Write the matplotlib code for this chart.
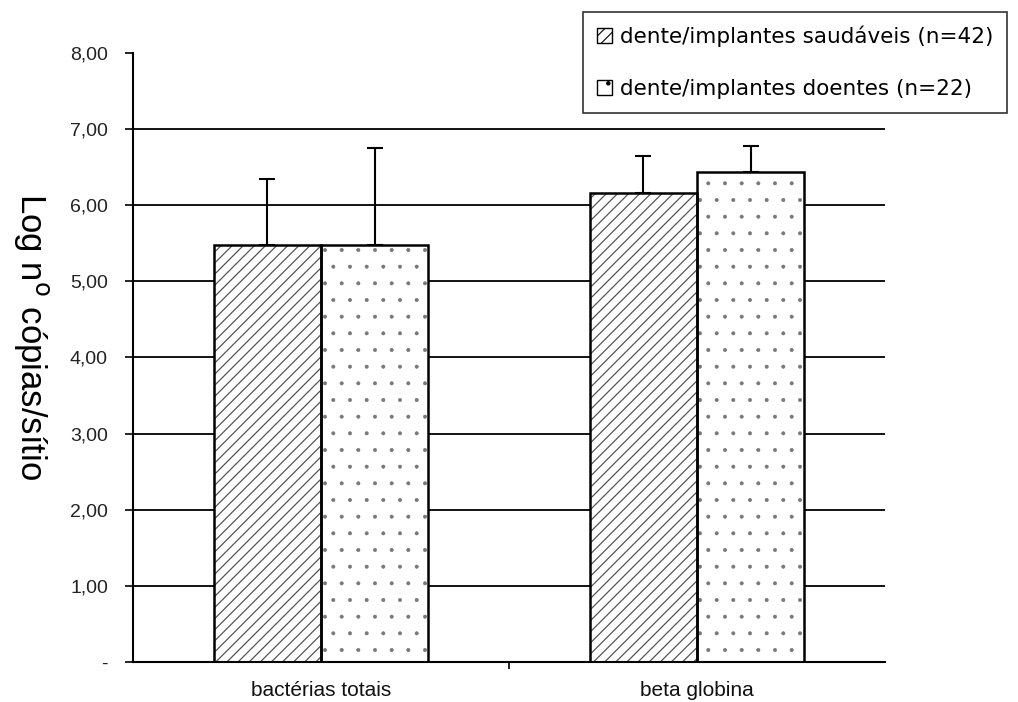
import matplotlib
matplotlib.use("Agg")
import matplotlib.pyplot as plt
import numpy as np
from matplotlib.patches import Patch

categories = ["bactérias totais", "beta globina"]
series_names = ["dente/implantes saudáveis (n=42)", "dente/implantes doentes (n=22)"]
healthy = [5.48, 6.16]
healthy_err = [0.86, 0.49]
diseased = [5.48, 6.44]
diseased_err = [1.27, 0.34]
yticks = [0, 1, 2, 3, 4, 5, 6, 7, 8]
ytick_labels = ["-", "1,00", "2,00", "3,00", "4,00", "5,00", "6,00", "7,00", "8,00"]

plt.rcParams['font.family'] = ['Liberation Sans', 'DejaVu Sans']

fig = plt.figure(figsize=(10.18, 7.02), dpi=100)
ax = fig.add_axes([0.1306, 0.057, 0.7388, 0.8675])

x = np.arange(len(categories))
w = 0.285
for yv in yticks[1:-1]:
    ax.axhline(yv, color='black', lw=1.3, zorder=0)

plt.rcParams['hatch.linewidth'] = 0.9
ax.bar(x - w/2, healthy, w, color='white', edgecolor='#555555', lw=0, hatch='///', zorder=2)
plt.rcParams['hatch.linewidth'] = 0.4
ax.bar(x + w/2, diseased, w, color='white', edgecolor='#777777', lw=0, hatch='.', zorder=2)
ax.bar(x - w/2, healthy, w, fill=False, edgecolor='black', lw=1.8, zorder=3)
ax.bar(x + w/2, diseased, w, fill=False, edgecolor='black', lw=1.8, zorder=3)
ax.errorbar(x - w/2, healthy, yerr=[np.zeros(2), healthy_err], fmt='none', ecolor='black',
            elinewidth=1.5, capsize=6, capthick=1.5, zorder=1)
ax.errorbar(x + w/2, diseased, yerr=[np.zeros(2), diseased_err], fmt='none', ecolor='black',
            elinewidth=1.5, capsize=6, capthick=1.5, zorder=1)

ax.set_xlim(-0.5, 1.5)
ax.set_ylim(0, 8)
ax.set_yticks(yticks)
ax.set_yticklabels(ytick_labels, fontsize=14, color='#222222')
ax.set_xticks([0.5])
ax.set_xticklabels([""])
ax.tick_params(axis='x', length=5, width=1.2, direction='out')
ax.tick_params(axis='y', length=6, width=1.2, direction='out', pad=12)
for i, c in enumerate(categories):
    ax.text(x[i], -0.25, c, ha='center', va='top', fontsize=15, color='#111111')

ax.spines['top'].set_visible(False)
ax.spines['right'].set_visible(False)
ax.spines['left'].set_linewidth(1.5)
ax.spines['bottom'].set_linewidth(1.5)

fig.text(0.031, 0.521, "Log n$^{\\mathrm{o}}$ cópias/sítio", rotation=-90, ha='center', va='center',
         fontsize=25)

plt.rcParams['hatch.linewidth'] = 0.8
handles = [Patch(facecolor='white', edgecolor='black', hatch='///'),
           Patch(facecolor='white', edgecolor='black', hatch='.')]
leg = fig.legend(handles, series_names, loc='upper left', bbox_to_anchor=(0.573, 0.983),
                 prop={'family': 'DejaVu Sans', 'size': 15.5}, frameon=True, fancybox=False,
                 edgecolor='black', handlelength=0.7, handleheight=0.7, handletextpad=0.35,
                 labelspacing=1.45, borderpad=0.65, borderaxespad=0)
leg.get_frame().set_linewidth(1.2)

fig.savefig("out.png", dpi=100)
